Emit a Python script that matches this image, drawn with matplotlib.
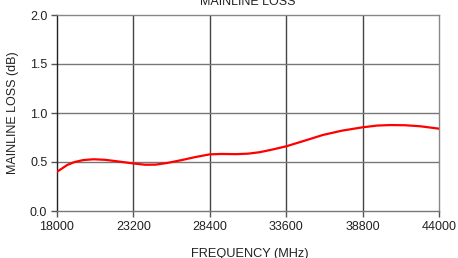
import matplotlib
matplotlib.use("Agg")
import matplotlib.pyplot as plt

freq = [18000, 18300, 18700, 19200, 19800, 20500, 21300, 22200, 23200, 24000,
        24700, 25500, 26500, 27400, 28400, 29200, 30200, 31000, 31800, 32600,
        33600, 34800, 36100, 37400, 38800, 39800, 40700, 41700, 42700, 44000]
loss = [0.40, 0.43, 0.47, 0.50, 0.52, 0.528, 0.522, 0.505, 0.485, 0.472,
        0.473, 0.49, 0.52, 0.55, 0.578, 0.582, 0.58, 0.585, 0.60, 0.625,
        0.66, 0.715, 0.776, 0.82, 0.854, 0.872, 0.877, 0.875, 0.865, 0.84]
xticks = [18000, 23200, 28400, 33600, 38800, 44000]
yticks = [0.0, 0.5, 1.0, 1.5, 2.0]

plt.rcParams['font.family'] = ['Liberation Sans', 'DejaVu Sans']

fig = plt.figure(figsize=(4.58, 2.58), dpi=100)
ax = fig.add_axes([57/458, 1-211/258, (439-57)/458, (211-15)/258])

ax.plot(freq, loss, color='#ff0000', lw=1.6, solid_joinstyle='round',
        solid_capstyle='round', zorder=3)

ax.set_xlim(18000, 44000)
ax.set_ylim(0, 2)
ax.set_xticks(xticks)
ax.set_xticklabels([str(v) for v in xticks])
ax.set_yticks(yticks)
ax.set_yticklabels([f"{v:.1f}" for v in yticks])

for x in xticks[1:-1]:
    ax.axvline(x, color='#444444', lw=1.0, zorder=1)
for y in yticks[1:-1]:
    ax.axhline(y, color='#777777', lw=1.0, zorder=1)

for s in ['top', 'right']:
    ax.spines[s].set_color('#888888')
    ax.spines[s].set_linewidth(1.0)
ax.spines['left'].set_color('#222222')
ax.spines['bottom'].set_color('#777777')
ax.spines['left'].set_linewidth(1.0)
ax.spines['bottom'].set_linewidth(1.0)

ax.tick_params(axis='both', direction='out', length=4, width=1, color='#555555',
               labelsize=9, labelcolor='#222222', pad=3)

fig.text(248/458, 1-5/258, "MAINLINE LOSS", ha='center', va='baseline',
         fontsize=9, color='#222222')
fig.text(250/458, 1-257/258, "FREQUENCY (MHz)", ha='center', va='baseline',
         fontsize=9.2, color='#222222')
fig.text(13/458, 1-113/258, "MAINLINE LOSS (dB)", ha='center', va='center',
         rotation=90, fontsize=9, color='#222222')

fig.savefig("out.png", dpi=100)
